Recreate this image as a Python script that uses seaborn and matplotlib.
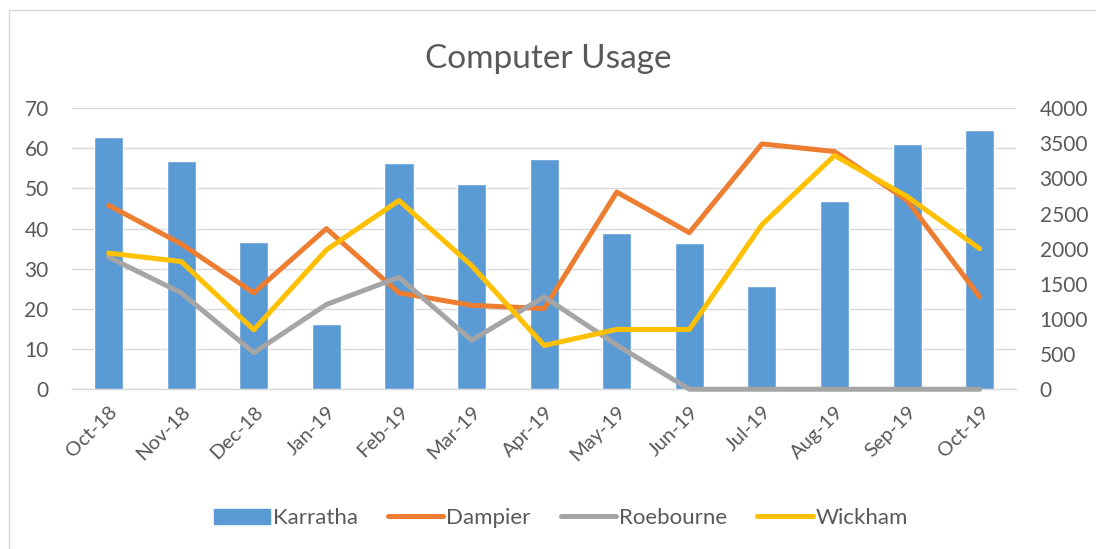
import numpy as np
import matplotlib.pyplot as plt
import matplotlib.patches as mpatches
from matplotlib.lines import Line2D
import seaborn as sns

# Data
months = ['Oct-18', 'Nov-18', 'Dec-18', 'Jan-19', 'Feb-19', 'Mar-19', 'Apr-19',
          'May-19', 'Jun-19', 'Jul-19', 'Aug-19', 'Sep-19', 'Oct-19']
karratha = [3587, 3246, 2093, 925, 3217, 2918, 3274, 2221, 2078, 1466, 2676, 3488, 3687]
dampier = [45.8, 36.2, 24.0, 40.0, 24.0, 20.9, 20.1, 49.1, 39.0, 61.1, 59.2, 47.0, 23.0]
roebourne = [32.9, 24.0, 9.1, 21.1, 27.9, 12.2, 23.0, 11.0, 0, 0, 0, 0, 0]
wickham = [33.9, 31.8, 14.8, 34.7, 47.0, 30.8, 10.9, 14.9, 14.9, 41.0, 58.2, 48.0, 35.0]

left_ticks = [0, 10, 20, 30, 40, 50, 60, 70]
right_ticks = [0, 500, 1000, 1500, 2000, 2500, 3000, 3500, 4000]

c_bar = '#5B9BD5'
c_dam = '#ED7D31'
c_roe = '#A5A5A5'
c_wic = '#FFC000'
txt = '#595959'
grid_c = '#D9D9D9'
lw = 3.6

sns.set_theme(style='white')
plt.rcParams['font.family'] = ['Lato', 'DejaVu Sans']

fig = plt.figure(figsize=(10.96, 5.49), dpi=100)
# bottom layer: left axis with the gridlines
ax = fig.add_axes([0.066, 0.291, 0.861, 0.512])
ax.set_ylim(0, 70)
ax.set_yticks(left_ticks)
ax.grid(axis='y', color=grid_c, linewidth=1)
ax.set_axisbelow(True)

# middle layer: bars on the right axis
ax2 = ax.twinx()
sns.barplot(x=months, y=karratha, color=c_bar, saturation=1, width=0.4, ax=ax2)
ax2.set_ylim(0, 4000)
ax2.set_yticks(right_ticks)
ax2.grid(False)

# top layer: lines, same scale as left axis
ax3 = ax.twinx()
x = np.arange(len(months))
for vals, col in [(dampier, c_dam), (roebourne, c_roe), (wickham, c_wic)]:
    sns.lineplot(x=x, y=vals, color=col, linewidth=lw, ax=ax3, legend=False,
                 clip_on=False)
ax3.set_ylim(0, 70)
ax3.set_yticks([])
ax3.grid(False)
ax3.set_ylabel('')

ax.set_xlim(-0.5, len(months) - 0.5)
ax.set_xticks(x)
ax.set_xticklabels(months, rotation=45, ha='right', rotation_mode='anchor')
ax.set_xticks(np.arange(-0.5, len(months)), minor=True)
ax.tick_params(axis='x', which='major', length=0, pad=10, labelsize=14.5, labelcolor=txt)
ax.tick_params(axis='x', which='minor', length=6, width=1, color=grid_c, direction='out')
ax.tick_params(axis='y', length=0, labelsize=15, labelcolor=txt, pad=17)
ax2.tick_params(axis='y', length=0, labelsize=15, labelcolor=txt, pad=17)
for a in (ax, ax2, ax3):
    a.set_xlabel('')
    for s in a.spines.values():
        s.set_visible(False)
ax.spines['bottom'].set_visible(True)
ax.spines['bottom'].set_color(grid_c)
ax.spines['bottom'].set_linewidth(1)

fig.text(0.5, 0.892, 'Computer Usage', ha='center', va='center', fontsize=24, color=txt)

handles = [mpatches.Patch(color=c_bar, label='Karratha'),
           Line2D([], [], color=c_dam, linewidth=lw, label='Dampier'),
           Line2D([], [], color=c_roe, linewidth=lw, label='Roebourne'),
           Line2D([], [], color=c_wic, linewidth=lw, label='Wickham')]
fig.legend(handles=handles, loc='center', bbox_to_anchor=(0.512, 0.056), ncol=4,
           frameon=False, fontsize=16, labelcolor=txt, handlelength=2.5,
           handletextpad=0.13, columnspacing=1.35)

# chart area border (top and left edges visible in the reference)
fig.add_artist(Line2D([8.5 / 1096, 1], [1 - 9.5 / 549, 1 - 9.5 / 549],
                      color=grid_c, linewidth=1, transform=fig.transFigure))
fig.add_artist(Line2D([8.5 / 1096, 8.5 / 1096], [0, 1 - 9.5 / 549],
                      color=grid_c, linewidth=1, transform=fig.transFigure))

fig.savefig('out.png', dpi=100, facecolor='white')
